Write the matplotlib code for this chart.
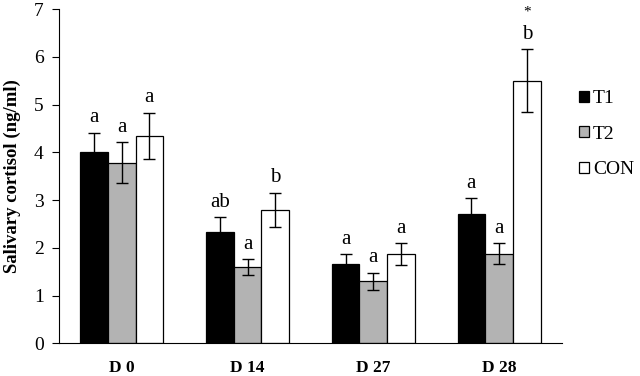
import numpy as np
import matplotlib.pyplot as plt

days = ['D 0', 'D 14', 'D 27', 'D 28']
groups = ['T1', 'T2', 'CON']
t1 = [4.00, 2.34, 1.65, 2.70]
t2 = [3.78, 1.60, 1.30, 1.88]
con = [4.34, 2.79, 1.86, 5.50]
t1_err = [0.41, 0.30, 0.21, 0.34]
t2_err = [0.43, 0.16, 0.18, 0.21]
con_err = [0.49, 0.36, 0.23, 0.66]
t1_letters = ['a', 'ab', 'a', 'a']
t2_letters = ['a', 'a', 'a', 'a']
con_letters = ['a', 'b', 'a', 'b']

plt.rcParams['font.family'] = ['Liberation Serif', 'DejaVu Serif']

fig = plt.figure(figsize=(6.4, 3.76), dpi=100)
ax = fig.add_axes([0.092, 0.087, 0.786, 0.889])

x = np.arange(len(days))
width = 0.22
colors = ['black', '#b3b3b3', 'white']
series = [t1, t2, con]
errs = [t1_err, t2_err, con_err]
letters = [t1_letters, t2_letters, con_letters]

for i, (vals, err, col, lab) in enumerate(zip(series, errs, colors, groups)):
    pos = x + (i - 1) * width
    ax.bar(pos, vals, width, color=col, edgecolor='black', linewidth=0.9, label=lab,
           yerr=err, error_kw=dict(ecolor='black', elinewidth=1.0, capsize=4, capthick=1.0))
    for p, v, e, t in zip(pos, vals, err, letters[i]):
        ax.annotate(t, (p, v + e), xytext=(0, 7.5), textcoords='offset points',
                    ha='center', va='baseline', fontsize=15)

# significance mark on D 28 CON
ax.annotate('*', (x[3] + width, con[3] + con_err[3]), xytext=(0, 27),
            textcoords='offset points', ha='center', va='center', fontsize=11)

ax.set_xlim(-0.5, 3.5)
ax.set_ylim(0, 7)
ax.set_yticks(range(0, 8))
ax.set_xticks(x)
ax.set_xticklabels(days, fontweight='bold', fontsize=12.5)
ax.tick_params(axis='x', length=0, pad=12)
ax.tick_params(axis='y', labelsize=14, length=5, direction='out', pad=6)
ax.set_ylabel('Salivary cortisol (ng/ml)', fontweight='bold', fontsize=13.5, labelpad=9)
for s in ['top', 'right']:
    ax.spines[s].set_visible(False)

ax.legend(loc='upper left', bbox_to_anchor=(1.0, 0.81), frameon=False, fontsize=14,
          handlelength=0.5, handleheight=0.5, handletextpad=0.2, labelspacing=0.95)

fig.savefig('out.png', dpi=100)
